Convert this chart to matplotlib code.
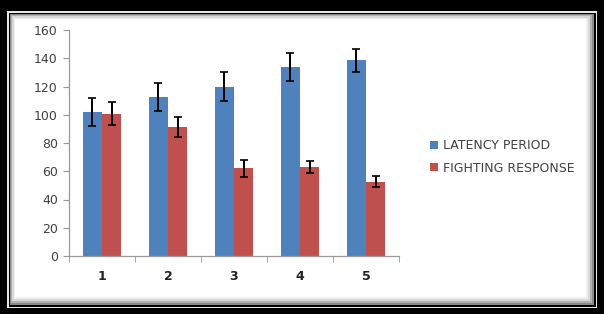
import matplotlib
matplotlib.use("Agg")
import matplotlib.pyplot as plt
from matplotlib.patches import Rectangle
import numpy as np

categories = ["1", "2", "3", "4", "5"]
latency = [102, 112.5, 120, 134, 138.5]
latency_err = [10, 10, 10.5, 9.8, 8.2]
fighting = [100.8, 91.3, 62, 63, 52.7]
fighting_err = [8.3, 7, 6, 4.5, 4]
yticks = [0, 20, 40, 60, 80, 100, 120, 140, 160]
series_names = ["LATENCY PERIOD", "FIGHTING RESPONSE"]

W, H = 604, 314
fig = plt.figure(figsize=(W / 100, H / 100), dpi=100, facecolor="black")

def frect(x0, y0, x1, y1, color, z):
    # pixel coords, top-down
    fig.patches.append(Rectangle((x0 / W, 1 - y1 / H), (x1 - x0) / W, (y1 - y0) / H,
                                 transform=fig.transFigure, facecolor=color,
                                 edgecolor="none", zorder=z))

frect(7, 11, 597, 308, "#e8e8e8", -10)
frect(8.5, 12.5, 595.5, 306.5, "black", -9)
frect(10, 14, 594, 305, "#888888", -8)
frect(11, 15, 592, 303, "#b0b0b0", -7)
frect(12, 16, 590, 301, "#d8d8d8", -6)
frect(13.5, 17.5, 588, 299, "#f0f0f0", -5)
frect(15, 19, 586, 297, "white", -4)

ax = fig.add_axes([69 / W, 1 - 256 / H, 330 / W, 226 / H])
ax.set_zorder(10)
ax.set_facecolor("none")
x = np.arange(len(categories))
bw = 0.29
blue = "#4F81BD"
red = "#C0504D"
ekw = dict(ecolor="black", elinewidth=1.4, capsize=3, capthick=1.2)
ax.bar(x - bw / 2, latency, bw, color=blue, yerr=latency_err, error_kw=ekw, label=series_names[0])
ax.bar(x + bw / 2, fighting, bw, color=red, yerr=fighting_err, error_kw=ekw, label=series_names[1])

ax.set_xlim(-0.5, len(categories) - 0.5)
ax.set_ylim(0, 160)
ax.set_yticks(yticks)
ax.set_yticklabels([str(v) for v in yticks])
ax.set_xticks(x)
ax.set_xticklabels(categories, fontweight="bold")
ax.set_xticks(np.arange(len(categories) + 1) - 0.5, minor=True)
ax.tick_params(axis="x", which="major", length=0, pad=10, labelsize=9, labelcolor="#222222")
ax.tick_params(axis="x", which="minor", length=4, color="#999999", direction="out")
ax.tick_params(axis="y", length=4, color="#999999", labelsize=9, labelcolor="#404040", pad=4)
for s in ["top", "right"]:
    ax.spines[s].set_visible(False)
for s in ["left", "bottom"]:
    ax.spines[s].set_color("#999999")
    ax.spines[s].set_linewidth(0.9)

leg = fig.legend(loc="upper left", bbox_to_anchor=(424 / W, 1 - 133 / H), frameon=False,
                 handlelength=0.6, handleheight=0.6, handletextpad=0.4, labelspacing=0.75,
                 borderpad=0, fontsize=9, labelcolor="#404040")
leg.set_zorder(20)

fig.savefig("out.png", dpi=100, facecolor="black")
